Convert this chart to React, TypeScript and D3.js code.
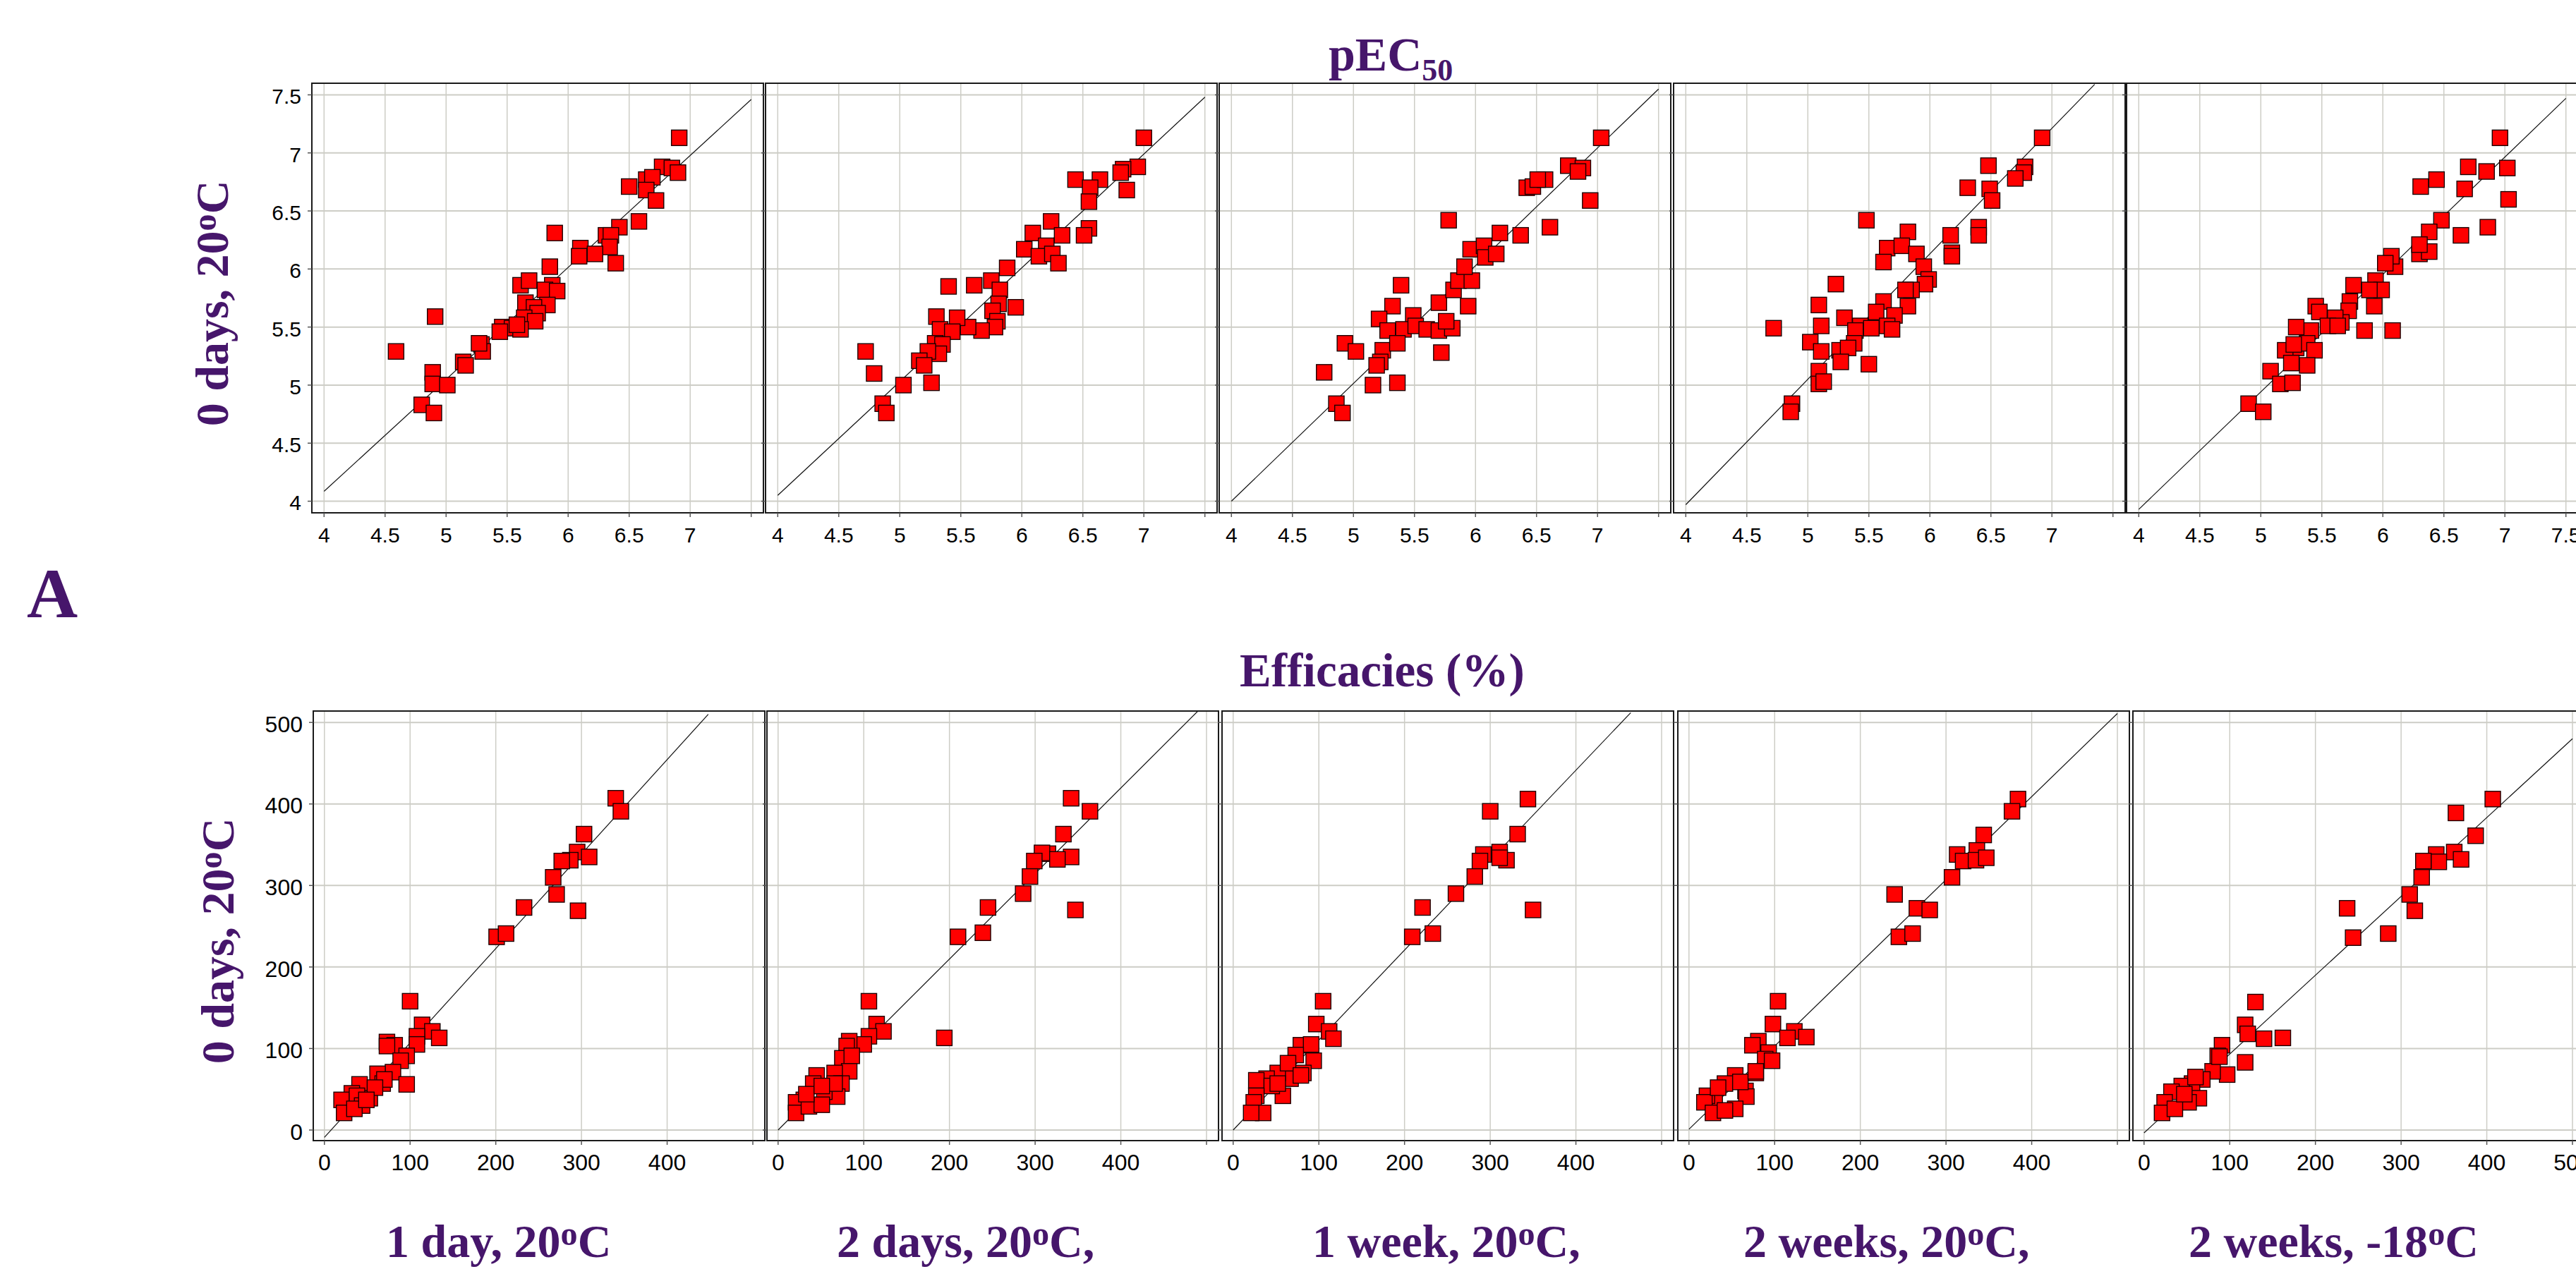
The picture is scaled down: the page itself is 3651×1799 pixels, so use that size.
import React, { useEffect, useRef } from 'react';
import * as d3 from 'd3';

// Condition labels (the "o" after 20 / 18 is drawn raised)
const conditions = ['1 day, 20ºC', '2 days, 20ºC,', '1 week, 20ºC,', '2 weeks, 20ºC,', '2 weeks, -18ºC'];
const yLabel = '0 days, 20ºC';

// pEC50 pairs [stored condition, 0 days 20ºC]
const pecOneDay = [
  [6.91, 7.13], [6.77, 6.88], [6.85, 6.87], [6.9, 6.83], [6.64, 6.77], [6.69, 6.79], [6.64, 6.68], [6.5, 6.71],
  [6.72, 6.59], [6.58, 6.41], [6.42, 6.36], [6.31, 6.29], [6.35, 6.29], [6.34, 6.19], [5.89, 6.31], [6.1, 6.18],
  [6.09, 6.11], [6.22, 6.13], [6.39, 6.05], [5.85, 6.02], [5.61, 5.86], [5.68, 5.9], [5.87, 5.86], [5.81, 5.82],
  [5.91, 5.81], [5.65, 5.71], [5.83, 5.69], [5.72, 5.67], [5.75, 5.62], [5.64, 5.58], [5.73, 5.55], [5.46, 5.5],
  [5.54, 5.49], [5.61, 5.48], [5.58, 5.52], [5.44, 5.46], [4.91, 5.59], [4.59, 5.29], [5.29, 5.35], [5.3, 5.29],
  [5.27, 5.36], [5.14, 5.2], [5.16, 5.17], [4.89, 5.11], [4.89, 5.01], [5.01, 5.0], [4.8, 4.83], [4.9, 4.76]
];
const pecTwoDays = [
  [7.0, 7.13], [6.95, 6.88], [6.83, 6.86], [6.81, 6.83], [6.86, 6.68], [6.44, 6.77], [6.64, 6.77], [6.56, 6.7],
  [6.55, 6.58], [6.24, 6.41], [6.09, 6.31], [6.33, 6.29], [6.55, 6.35], [6.51, 6.29], [6.2, 6.2], [6.02, 6.17],
  [6.14, 6.11], [6.25, 6.13], [6.3, 6.05], [5.88, 6.01], [5.75, 5.9], [5.82, 5.82], [5.4, 5.85], [5.61, 5.86],
  [5.95, 5.67], [5.81, 5.7], [5.76, 5.64], [5.8, 5.55], [5.78, 5.5], [5.67, 5.47], [5.56, 5.5], [5.47, 5.58],
  [5.3, 5.59], [5.33, 5.48], [5.43, 5.46], [5.29, 5.36], [5.35, 5.35], [5.32, 5.27], [5.23, 5.29], [5.16, 5.21],
  [5.2, 5.17], [4.72, 5.29], [4.79, 5.1], [5.03, 5.0], [5.26, 5.02], [4.86, 4.84], [4.89, 4.76]
];
const pecOneWeek = [
  [5.78, 6.42], [5.39, 5.86], [5.32, 5.68], [5.21, 5.57], [5.49, 5.6], [5.28, 5.47], [5.41, 5.48], [5.51, 5.51],
  [5.6, 5.48], [5.7, 5.47], [5.81, 5.49], [4.93, 5.36], [5.02, 5.29], [5.24, 5.3], [5.36, 5.36], [5.22, 5.2],
  [5.19, 5.17], [4.76, 5.11], [5.16, 5.0], [5.36, 5.02], [5.72, 5.28], [4.86, 4.84], [4.91, 4.76], [5.7, 5.71],
  [5.76, 5.55], [5.82, 5.82], [5.86, 5.9], [5.94, 5.68], [5.97, 5.9], [5.91, 6.02], [5.96, 6.17], [6.07, 6.2],
  [6.08, 6.1], [6.17, 6.13], [6.2, 6.31], [6.37, 6.29], [6.42, 6.7], [6.47, 6.71], [6.57, 6.77], [6.61, 6.36],
  [7.03, 7.13], [6.76, 6.89], [6.88, 6.87], [6.84, 6.84], [6.94, 6.59], [6.51, 6.77]
];
const pecTwoWeeks = [
  [6.92, 7.13], [6.48, 6.89], [6.78, 6.88], [6.77, 6.83], [6.7, 6.78], [6.31, 6.7], [6.49, 6.69], [6.51, 6.59],
  [6.4, 6.36], [6.4, 6.29], [6.17, 6.29], [6.18, 6.14], [6.18, 6.11], [5.48, 6.42], [5.82, 6.32], [5.65, 6.18],
  [5.77, 6.2], [5.89, 6.13], [5.62, 6.06], [5.95, 6.02], [5.99, 5.91], [5.96, 5.87], [5.85, 5.82], [5.8, 5.82],
  [5.23, 5.87], [5.09, 5.69], [5.82, 5.68], [5.62, 5.72], [5.71, 5.6], [5.56, 5.63], [5.65, 5.51], [5.69, 5.48],
  [5.43, 5.51], [5.3, 5.58], [5.39, 5.47], [5.52, 5.49], [4.72, 5.49], [5.11, 5.51], [5.02, 5.37], [5.11, 5.29],
  [5.26, 5.3], [5.38, 5.36], [5.33, 5.32], [5.27, 5.2], [5.09, 5.12], [5.09, 5.01], [5.13, 5.03], [5.5, 5.18],
  [4.87, 4.84], [4.86, 4.77]
];
const pecTwoWeeksFrozen = [
  [6.96, 7.13], [7.02, 6.87], [6.85, 6.84], [6.7, 6.88], [7.03, 6.6], [6.67, 6.69], [6.44, 6.77], [6.31, 6.71],
  [6.86, 6.36], [6.64, 6.29], [6.48, 6.42], [6.38, 6.32], [6.3, 6.13], [6.38, 6.15], [6.3, 6.21], [6.1, 6.02],
  [6.07, 6.11], [6.02, 6.05], [5.76, 5.86], [5.94, 5.9], [5.99, 5.82], [5.89, 5.82], [5.93, 5.68], [5.73, 5.72],
  [5.72, 5.64], [6.08, 5.47], [5.85, 5.47], [5.66, 5.54], [5.61, 5.58], [5.45, 5.68], [5.48, 5.63], [5.55, 5.51],
  [5.63, 5.51], [5.41, 5.47], [5.29, 5.5], [5.29, 5.32], [5.38, 5.36], [5.2, 5.3], [5.27, 5.35], [5.44, 5.3],
  [5.25, 5.19], [5.38, 5.17], [5.08, 5.12], [5.16, 5.01], [5.26, 5.02], [4.9, 4.84], [5.02, 4.77]
];

// Efficacy (%) pairs [stored condition, 0 days 20ºC]
const effOneDay = [
  [340, 407], [346, 391], [303, 363], [295, 341], [309, 335], [287, 331], [277, 330], [267, 310], [271, 289],
  [296, 269], [233, 273], [201, 237], [212, 241], [100, 158], [114, 129], [126, 121], [134, 113], [108, 115],
  [108, 105], [73, 108], [82, 104], [73, 103], [96, 91], [89, 85], [80, 71], [62, 69], [96, 56], [68, 57],
  [41, 56], [53, 39], [32, 45], [20, 37], [38, 42], [44, 30], [23, 21], [35, 26], [70, 62], [59, 52], [49, 37]
];
const effTwoDays = [
  [342, 407], [364, 391], [333, 363], [315, 339], [308, 340], [342, 335], [326, 332], [299, 330], [294, 311],
  [286, 290], [347, 270], [245, 273], [239, 242], [210, 237], [194, 113], [106, 158], [115, 130], [123, 121],
  [106, 115], [100, 105], [83, 109], [80, 103], [75, 88], [86, 91], [83, 72], [66, 70], [74, 57], [69, 41],
  [54, 47], [45, 67], [41, 57], [30, 37], [21, 34], [21, 21], [36, 29], [51, 31], [66, 57], [33, 44], [51, 54]
];
const effOneWeek = [
  [344, 406], [300, 391], [350, 270], [332, 363], [311, 341], [292, 338], [288, 330], [319, 331], [311, 334],
  [282, 311], [260, 290], [221, 273], [233, 241], [209, 237], [105, 158], [97, 130], [112, 121], [117, 112],
  [79, 104], [91, 105], [73, 92], [94, 85], [82, 70], [67, 63], [52, 70], [39, 63], [27, 61], [58, 42],
  [45, 54], [27, 42], [24, 34], [35, 21], [21, 21], [52, 57], [64, 82], [79, 67]
];
const effTwoWeeks = [
  [384, 406], [377, 391], [344, 362], [336, 343], [313, 338], [320, 330], [335, 331], [347, 334], [307, 310],
  [240, 289], [266, 272], [281, 270], [245, 237], [261, 241], [104, 158], [98, 130], [123, 121], [137, 114],
  [115, 113], [81, 109], [74, 104], [93, 95], [89, 87], [97, 85], [78, 70], [54, 67], [42, 57], [66, 48],
  [67, 41], [54, 26], [30, 37], [21, 42], [18, 34], [28, 21], [42, 24], [34, 52], [60, 59], [78, 72]
];
const effTwoWeeksFrozen = [
  [407, 406], [364, 389], [387, 361], [362, 341], [341, 338], [370, 332], [344, 329], [326, 330], [324, 310],
  [310, 289], [316, 269], [237, 272], [285, 241], [244, 236], [130, 157], [118, 129], [140, 112], [162, 113],
  [121, 118], [118, 83], [91, 104], [86, 91], [97, 68], [80, 72], [68, 62], [56, 57], [64, 39], [52, 34],
  [44, 54], [32, 47], [24, 34], [21, 21], [36, 26], [60, 65], [88, 90], [47, 44]
];

// Fitted lines [x1, y1, x2, y2] in data units
const pecFits = [[4, 4.085, 7.5, 7.46], [4, 4.05, 7.5, 7.48], [4, 4.0, 7.5, 7.55], [4, 3.97, 7.35, 7.59], [4, 3.93, 7.5, 7.47]];
const effFits = [[0, -9, 448, 510], [0, 0, 490, 514], [0, 0, 464, 512], [0, 1, 500, 511], [0, -3.5, 500, 480]];

const pecTicks = [4, 4.5, 5, 5.5, 6, 6.5, 7, 7.5];
const effTicks = [0, 100, 200, 300, 400, 500];

const PURPLE = '#46166b';
const SERIF = '"Liberation Serif", "Times New Roman", serif';
const SANS = '"Liberation Sans", Arial, sans-serif';

// write a label, raising the "º" as a small superscript o
function addRaised(text, str, size) {
  const [pre, post] = str.split('º');
  text.append('tspan').text(pre);
  text.append('tspan').attr('font-size', size * 0.73).attr('dy', -size * 0.26).text('o');
  text.append('tspan').attr('dy', size * 0.26).text(post);
}

export default function App() {
  const svgRef = useRef(null);

  useEffect(() => {
    const W = 3651, H = 1799;
    const svg = d3.select(svgRef.current);
    svg.selectAll('*').remove();
    svg.attr('width', W).attr('height', H).style('background', '#fff');

    const rows = [
      { data: [pecOneDay, pecTwoDays, pecOneWeek, pecTwoWeeks, pecTwoWeeksFrozen], fits: pecFits, ticks: pecTicks,
        domain: [3.9, 7.6], lefts: [442, 1085, 1728, 2372, 3014], top: 118, ylab: { x: 323, y: 430 }, fs: 30 },
      { data: [effOneDay, effTwoDays, effOneWeek, effTwoWeeks, effTwoWeeksFrozen], fits: effFits, ticks: effTicks,
        domain: [-13, 514], lefts: [444, 1087, 1732, 2378, 3023], top: 1008, ylab: { x: 331, y: 1334 }, fs: 32 }
    ];
    const pw = 640, ph = 609, sq = 22;

    rows.forEach((row, r) => {
      row.data.forEach((pts, i) => {
        const left = row.lefts[i];
        const x = d3.scaleLinear().domain(row.domain).range([left, left + pw]);
        const y = d3.scaleLinear().domain(row.domain).range([row.top + ph, row.top]);
        const g = svg.append('g');
        const clipId = `clip-${r}-${i}`;
        g.append('clipPath').attr('id', clipId)
          .append('rect').attr('x', left).attr('y', row.top).attr('width', pw).attr('height', ph);

        // grid
        g.selectAll('.vg').data(row.ticks).join('line')
          .attr('x1', d => x(d)).attr('x2', d => x(d)).attr('y1', row.top).attr('y2', row.top + ph)
          .attr('stroke', '#cdcdc6').attr('stroke-width', 1.5);
        g.selectAll('.hg').data(row.ticks).join('line')
          .attr('class', 'hg')
          .attr('y1', d => y(d)).attr('y2', d => y(d)).attr('x1', left).attr('x2', left + pw)
          .attr('stroke', '#cdcdc6').attr('stroke-width', 2);

        // fitted line
        const f = row.fits[i];
        g.append('line')
          .attr('clip-path', `url(#${clipId})`)
          .attr('x1', x(f[0])).attr('y1', y(f[1])).attr('x2', x(f[2])).attr('y2', y(f[3]))
          .attr('stroke', '#111').attr('stroke-width', 1.2);

        // points
        g.append('g').attr('clip-path', `url(#${clipId})`)
          .selectAll('rect').data(pts).join('rect')
          .attr('x', d => x(d[0]) - sq / 2).attr('y', d => y(d[1]) - sq / 2)
          .attr('width', sq).attr('height', sq)
          .attr('fill', '#ff0000').attr('stroke', '#1a0000').attr('stroke-width', 1.4);

        // frame
        g.append('rect').attr('x', left).attr('y', row.top).attr('width', pw).attr('height', ph)
          .attr('fill', 'none').attr('stroke', '#1a1a1a').attr('stroke-width', 2);

        // tick marks
        g.selectAll('.yt').data(row.ticks).join('line')
          .attr('x1', left - 6).attr('x2', left).attr('y1', d => y(d)).attr('y2', d => y(d))
          .attr('stroke', '#555').attr('stroke-width', 1.5);
        g.selectAll('.xt').data(row.ticks).join('line')
          .attr('class', 'xt')
          .attr('y1', row.top + ph).attr('y2', row.top + ph + 6).attr('x1', d => x(d)).attr('x2', d => x(d))
          .attr('stroke', '#555').attr('stroke-width', 1.5);

        // x tick labels (last tick only labelled on the final panel)
        const last = i === row.data.length - 1;
        const xl = row.ticks.filter((t, k) => last || k < row.ticks.length - 1);
        g.selectAll('.xl').data(xl).join('text')
          .attr('x', d => x(d)).attr('y', row.top + ph + 42)
          .attr('text-anchor', 'middle').attr('font-family', SANS).attr('font-size', row.fs).attr('fill', '#000')
          .text(d => String(d));

        if (i === 0) {
          g.selectAll('.yl').data(row.ticks).join('text')
            .attr('x', left - 15).attr('y', d => y(d) + row.fs * 0.43)
            .attr('text-anchor', 'end').attr('font-family', SANS).attr('font-size', row.fs).attr('fill', '#000')
            .text(d => String(d));
        }
      });

      // rotated y title
      const yt = svg.append('text')
        .attr('transform', `translate(${row.ylab.x},${row.ylab.y}) rotate(-90)`)
        .attr('text-anchor', 'middle').attr('font-family', SERIF).attr('font-weight', 'bold')
        .attr('font-size', 66).attr('fill', PURPLE);
      addRaised(yt, yLabel, 66);
    });

    // row titles
    const t1 = svg.append('text').attr('x', 1883).attr('y', 100)
      .attr('font-family', SERIF).attr('font-weight', 'bold').attr('font-size', 68).attr('fill', PURPLE);
    t1.append('tspan').text('pEC');
    t1.append('tspan').attr('font-size', 44).attr('dy', 14).text('50');

    svg.append('text').attr('x', 1757).attr('y', 973)
      .attr('font-family', SERIF).attr('font-weight', 'bold').attr('font-size', 67).attr('fill', PURPLE)
      .text('Efficacies (%)');

    svg.append('text').attr('x', 38).attr('y', 875)
      .attr('font-family', SERIF).attr('font-weight', 'bold').attr('font-size', 100).attr('fill', PURPLE)
      .text('A');

    // condition labels under the bottom row
    const labelStarts = [547, 1186, 1860, 2471, 3102];
    conditions.forEach((c, i) => {
      const t = svg.append('text').attr('x', labelStarts[i]).attr('y', 1782)
        .attr('font-family', SERIF).attr('font-weight', 'bold').attr('font-size', 66).attr('fill', PURPLE);
      addRaised(t, c, 66);
    });
  }, []);

  return (
    <div style={{ position: 'absolute', left: 0, top: 0 }}>
      <svg ref={svgRef} style={{ display: 'block' }}></svg>
    </div>
  );
}
